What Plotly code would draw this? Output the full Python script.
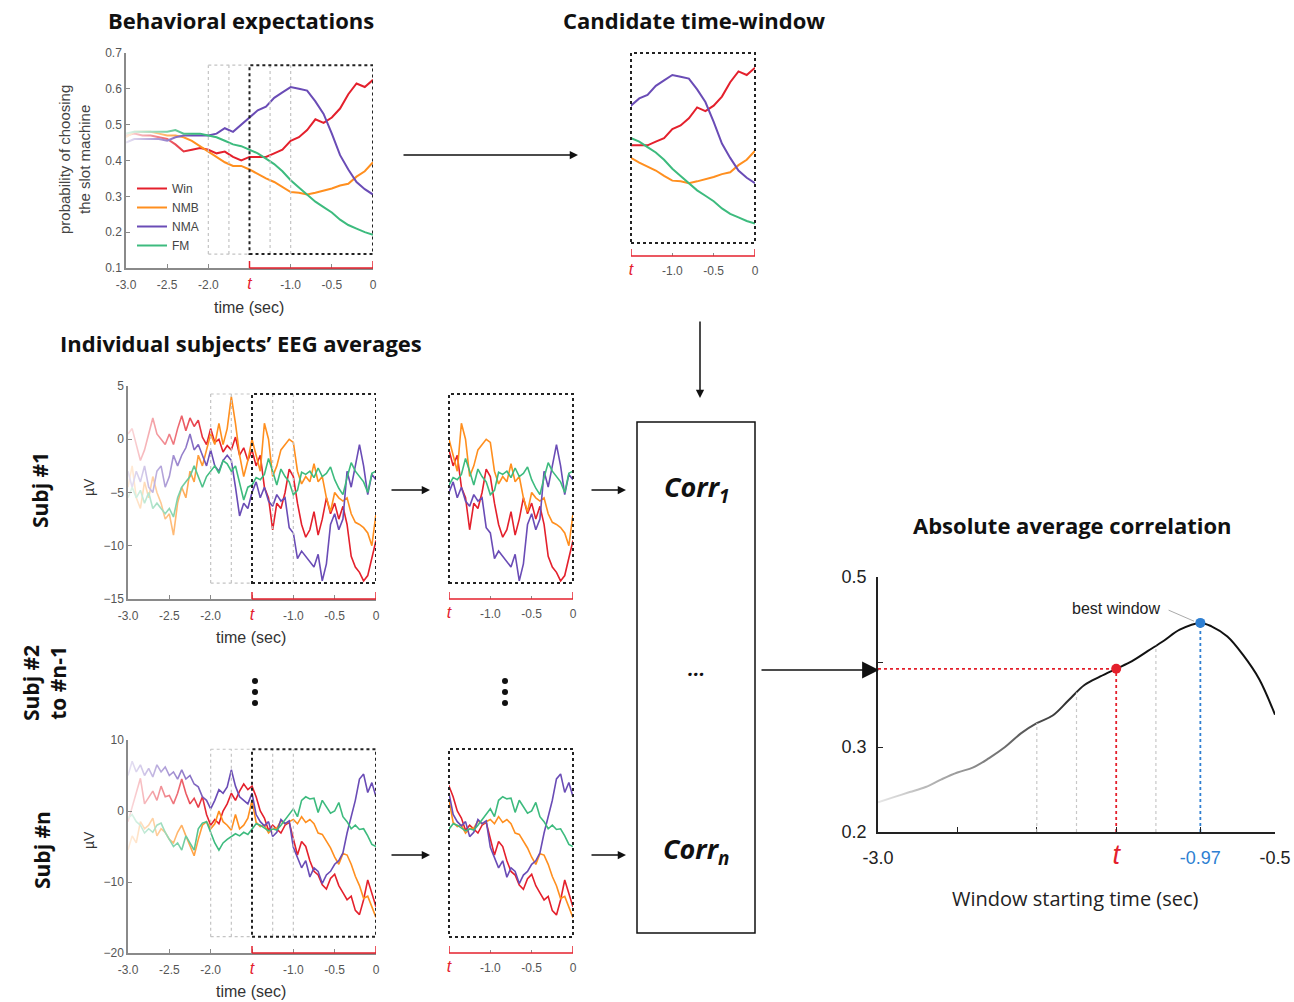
import numpy as np
import plotly.graph_objects as go

W, H = 1294, 1002

# ==========================================================
# 1) DATA (values read off the figure)
# ==========================================================
COND_NAMES = ["Win", "NMB", "NMA", "FM"]
COND_COLORS = ["#e4202c", "#ff8f1f", "#6a4cb6", "#3dbb7e"]

# behavioural expectations: probability of choosing the slot machine
BEH_TIME = [-3.0, -2.9, -2.8, -2.7, -2.6, -2.5, -2.4, -2.3, -2.2, -2.1,
            -2.0, -1.9, -1.8, -1.7, -1.6, -1.5, -1.4, -1.3, -1.2, -1.1,
            -1.0, -0.9, -0.8, -0.7, -0.6, -0.5, -0.4, -0.3, -0.2, -0.1, 0.0]
BEH_WIN = [0.47, 0.475, 0.47, 0.47, 0.465, 0.46, 0.445, 0.425, 0.43, 0.435,
           0.43, 0.42, 0.425, 0.41, 0.40, 0.41, 0.41, 0.41, 0.42, 0.43,
           0.455, 0.465, 0.485, 0.515, 0.505, 0.52, 0.545, 0.585, 0.615, 0.605, 0.625]
BEH_NMB = [0.465, 0.48, 0.48, 0.48, 0.475, 0.47, 0.47, 0.465, 0.455, 0.44,
           0.425, 0.41, 0.395, 0.385, 0.385, 0.375, 0.362, 0.35, 0.34, 0.325,
           0.312, 0.31, 0.305, 0.31, 0.315, 0.322, 0.33, 0.335, 0.355, 0.37, 0.395]
BEH_NMA = [0.45, 0.46, 0.46, 0.46, 0.46, 0.455, 0.465, 0.47, 0.47, 0.47,
           0.47, 0.475, 0.49, 0.48, 0.50, 0.52, 0.54, 0.55, 0.575, 0.59,
           0.605, 0.60, 0.595, 0.565, 0.53, 0.475, 0.415, 0.375, 0.34, 0.32, 0.305]
BEH_FM = [0.475, 0.48, 0.48, 0.48, 0.48, 0.48, 0.485, 0.475, 0.475, 0.475,
          0.47, 0.465, 0.455, 0.445, 0.44, 0.43, 0.42, 0.405, 0.39, 0.37,
          0.345, 0.325, 0.305, 0.285, 0.27, 0.255, 0.235, 0.22, 0.21, 0.20, 0.193]

# EEG averages (µV), sampled every 50 ms from -3.0 s to 0 s
EEG_TIME = [round(-3.0 + 0.05 * i, 2) for i in range(61)]

SUBJ1_WIN = [0.5, 1.0, -0.5, -2.0, -1.0, 0.5, 2.0, 0.5, 0.0, -0.5,
             0.5, -0.5, 1.0, 2.2, 0.8, 2.0, 1.2, 1.8, 0.2, -0.5,
             1.0, -0.3, 0.0, -1.2, -0.6, -1.0, 0.2, -1.5, -0.8, -2.0,
             -1.0, -2.5, -1.5, -4.5, -5.5, -8.5, -6.0, -6.5, -5.0, -2.8,
             -3.5, -6.0, -8.0, -9.2, -8.5, -6.8, -9.0, -7.5, -5.5, -7.0,
             -6.0, -7.5, -6.3, -8.0, -11.0, -12.0, -12.5, -13.3, -12.8, -11.0,
             -9.5]
SUBJ1_NMB = [-4.5, -2.5, -5.5, -6.5, -4.0, -5.5, -3.5, -5.0, -6.0, -7.5,
             -7.0, -9.0, -6.0, -4.5, -5.5, -3.0, -4.0, -1.5, -2.5, -1.0,
             0.5, -0.5, 1.5, -0.5, 1.0, 4.0, 1.5, -1.5, -3.5, -2.0,
             0.0, -1.5, -3.0, 1.5, 0.0, -3.5, -2.5, -1.0, -0.5, 0.0,
             -0.3, -3.0, -4.2, -3.5, -4.0, -2.3, -4.0, -3.5, -5.5, -6.8,
             -5.0, -5.5, -5.8, -5.5, -7.0, -7.8, -8.0, -8.3, -8.8, -10.0,
             -7.0]
SUBJ1_NMA = [-3.0, -4.5, -3.0, -4.0, -2.5, -4.5, -5.0, -3.0, -2.5, -4.5,
             -3.5, -1.5, -2.5, -1.5, -0.8, 0.5, -1.0, -0.5, -1.5, -2.5,
             -1.0, -2.5, -3.0, -2.0, -1.5, -2.0, -4.5, -7.2, -6.0, -6.5,
             -5.0, -4.0, -5.5, -4.5, -5.8, -6.3, -5.2, -5.8, -5.5, -8.3,
             -8.8, -11.2, -10.5, -11.0, -11.5, -12.0, -10.8, -13.3, -11.7, -8.0,
             -7.0, -8.5, -7.5, -3.0, -4.5, -2.5, -0.5, -2.5, -5.2, -3.3,
             -3.8]
SUBJ1_FM = [-5.5, -4.5, -5.5, -4.8, -6.0, -5.0, -6.5, -6.0, -6.5, -7.0,
            -6.5, -7.3, -5.5, -4.5, -4.0, -3.5, -2.5, -3.5, -4.5, -3.5,
            -3.0, -2.5, -3.2, -2.0, -2.3, -3.0, -2.5, -4.0, -5.7, -4.5,
            -4.3, -3.6, -3.8, -3.3, -1.8, -3.0, -4.3, -2.8, -3.5, -4.0,
            -5.2, -4.8, -3.1, -3.3, -3.0, -3.6, -2.7, -3.5, -3.2, -2.6,
            -3.8, -4.6, -5.2, -3.6, -2.2, -3.0, -3.5, -4.0, -5.0, -3.2,
            -3.0]

SUBJN_WIN = [-1.5, 0.5, 2.5, 4.6, 1.0, 2.0, 2.8, 1.5, 3.5, 2.0,
             2.2, 1.0, 2.5, 4.5, 2.5, 1.0, 1.8, 0.5, 2.0, -0.5,
             -2.0, -1.2, -1.8, 0.0, 1.0, 2.5, 1.5, 2.8, 3.8, 3.0,
             3.5, 2.0, 0.0, -1.0, -2.7, -2.0, -2.6, -3.1, -2.0, -1.6,
             -3.9, -6.2, -4.3, -5.0, -7.0, -8.5, -9.0, -10.4, -11.0, -9.5,
             -8.9, -10.5, -11.5, -12.5, -12.0, -14.0, -14.6, -12.5, -9.7, -11.5,
             -13.5]
SUBJN_NMB = [-5.5, -3.5, -4.5, -1.5, -2.5, -2.0, -1.0, -3.5, -2.5, -3.0,
             -4.0, -4.5, -3.0, -2.0, -3.5, -5.0, -6.3, -4.0, -2.0, -1.5,
             -2.5, -1.8, 0.0, -1.5, -2.0, -2.7, -0.5, -2.5, -2.0, -1.0,
             1.5, -1.6, -2.2, -2.0, -3.1, -2.5, -2.4, -1.4, -1.8, -1.5,
             -1.2, -1.8, -0.8, -1.6, -1.2, -1.8, -3.1, -3.3, -4.2, -5.2,
             -6.5, -7.5, -6.0, -6.2, -7.5, -9.2, -10.5, -12.3, -12.0, -13.5,
             -15.0]
SUBJN_NMA = [5.0, 7.0, 5.5, 6.5, 5.0, 6.0, 4.8, 6.5, 5.5, 6.2,
             5.0, 5.5, 4.5, 5.8, 4.5, 5.0, 3.8, 3.4, 2.0, 1.5,
             0.3, 1.5, 3.0, 2.5, 3.4, 5.8, 3.5, 2.0, 1.5, 1.0,
             2.5, -0.5, -1.5, -2.1, -1.5, -3.6, -3.0, -1.2, -1.8, -1.4,
             -5.1, -6.5, -8.0, -7.0, -9.3, -8.0, -8.5, -10.2, -9.0, -8.5,
             -7.5, -7.0, -5.9, -3.1, -0.7, 1.5, 4.5, 5.2, 2.6, 4.0,
             2.0]
SUBJN_FM = [-1.0, -0.5, -1.5, -2.0, -3.1, -2.5, -3.0, -2.0, -1.7, -3.0,
            -4.0, -5.0, -4.5, -5.5, -3.5, -4.5, -5.5, -2.5, -1.7, -1.5,
            -3.0, -4.5, -5.5, -4.5, -4.0, -3.6, -3.2, -3.5, -3.0, -3.3,
            -2.5, -1.8, -2.0, -2.4, -2.8, -2.5, -2.7, -2.0, -1.2, -0.5,
            0.3, -0.8, 1.5, 2.0, 1.7, 1.8, -0.2, 1.5, 0.5, -0.3,
            0.0, 1.2, -0.8, -1.5, -2.5, -2.0, -2.6, -2.5, -3.5, -4.7,
            -5.0]

# absolute average correlation vs window starting time
CORR_TIME = [-3.0, -2.9, -2.8, -2.7, -2.6, -2.5, -2.4, -2.3, -2.2, -2.1,
             -2.0, -1.9, -1.8, -1.7, -1.6, -1.5, -1.4, -1.3, -1.2, -1.1,
             -0.97, -0.9, -0.8, -0.7, -0.6, -0.5]
CORR_VALUE = [0.235, 0.241, 0.247, 0.253, 0.262, 0.27, 0.276, 0.287, 0.30, 0.316,
              0.328, 0.337, 0.355, 0.373, 0.383, 0.392, 0.401, 0.413, 0.425, 0.438,
              0.446, 0.442, 0.43, 0.408, 0.38, 0.338]

T_START = -1.5                        # candidate window start "t"
BEST_START = -0.97                    # best window start
OTHER_STARTS = [-2.0, -1.75, -1.25, -1.0]

TIME_TICKS = [-3.0, -2.5, -2.0, -1.5, -1.0, -0.5, 0.0]
CROP_TICKS = [-1.5, -1.0, -0.5, 0.0]

# ==========================================================
# 2) HELPERS
# ==========================================================
RED = "#e4202c"
BLUE = "#2e7fd2"


def px_x(p):
    return p / W


def px_y(p):
    return 1 - p / H


fig = go.Figure()


def note(xp, yp, text, size=12, color="#222", family="Liberation Sans", angle=0, xanchor="center"):
    fig.add_annotation(x=px_x(xp), y=px_y(yp), xref="paper", yref="paper", text=text,
                       showarrow=False, textangle=angle, xanchor=xanchor, yanchor="middle",
                       font=dict(size=size, color=color, family=family))


def arrow(x0, y0, x1, y1, size=1.1, width=1.5):
    fig.add_annotation(x=px_x(x1), y=px_y(y1), xref="paper", yref="paper",
                       ax=x0 - x1, ay=y0 - y1, text="", showarrow=True,
                       arrowhead=2, arrowsize=size, arrowwidth=width, arrowcolor="#111")


def fade(xa, ya, x0, x1, y0, y1, alpha=0.85):
    # white overlay that fades the start of the lines
    fig.add_trace(go.Scatter(
        x=[x0, x1, x1, x0, x0], y=[y0, y0, y1, y1, y0], mode="none", fill="toself",
        fillgradient=dict(type="horizontal",
                          colorscale=[[0, f"rgba(255,255,255,{alpha})"], [1, "rgba(255,255,255,0)"]]),
        hoverinfo="skip", showlegend=False, xaxis=xa, yaxis=ya))


def window_marks(xa, ya, ybox, axis_py):
    # grey dotted alternative windows + black dotted candidate window + red bracket
    dot_grey = dict(color="#c4c4c4", width=1.2, dash="dot")
    for xs in OTHER_STARTS:
        fig.add_shape(type="line", xref=xa, yref=ya, x0=xs, x1=xs, y0=ybox[0], y1=ybox[1], line=dot_grey)
    for yb in ybox:
        fig.add_shape(type="line", xref=xa, yref=ya, x0=OTHER_STARTS[0], x1=T_START, y0=yb, y1=yb, line=dot_grey)
    fig.add_shape(type="rect", xref=xa, yref=ya, x0=T_START, x1=0, y0=ybox[0], y1=ybox[1],
                  line=dict(color="#222", width=2, dash="dot"))
    bracket(xa, axis_py)


def bracket(xa, py):
    red = dict(color=RED, width=1.5)
    fig.add_shape(type="line", xref=xa, yref="paper", x0=T_START, x1=0, y0=px_y(py), y1=px_y(py), line=red)
    for xe in (T_START, 0):
        fig.add_shape(type="line", xref=xa, yref="paper", x0=xe, x1=xe, y0=px_y(py), y1=px_y(py - 7), line=red)


def crop_marks(xa, ya, py):
    fig.add_shape(type="rect", xref=xa + " domain", yref=ya + " domain", x0=0, x1=1, y0=0, y1=1,
                  line=dict(color="#222", width=2, dash="dot"))
    bracket(xa, py)


# ==========================================================
# 3) TRACES
# ==========================================================
beh_series = [BEH_WIN, BEH_NMB, BEH_NMA, BEH_FM]
subj1_series = [SUBJ1_WIN, SUBJ1_NMB, SUBJ1_NMA, SUBJ1_FM]
subjn_series = [SUBJN_WIN, SUBJN_NMB, SUBJN_NMA, SUBJN_FM]

for i, name in enumerate(COND_NAMES):
    for xa, ya, leg in (("x", "y", True), ("x2", "y2", False)):
        fig.add_trace(go.Scatter(x=BEH_TIME, y=beh_series[i], mode="lines", name=name,
                                 line=dict(color=COND_COLORS[i], width=2),
                                 showlegend=leg, hoverinfo="skip", xaxis=xa, yaxis=ya))
    for xa, ya in (("x3", "y3"), ("x4", "y4")):
        fig.add_trace(go.Scatter(x=EEG_TIME, y=subj1_series[i], mode="lines",
                                 line=dict(color=COND_COLORS[i], width=1.6),
                                 showlegend=False, hoverinfo="skip", xaxis=xa, yaxis=ya))
    for xa, ya in (("x5", "y5"), ("x6", "y6")):
        fig.add_trace(go.Scatter(x=EEG_TIME, y=subjn_series[i], mode="lines",
                                 line=dict(color=COND_COLORS[i], width=1.6),
                                 showlegend=False, hoverinfo="skip", xaxis=xa, yaxis=ya))

fig.add_trace(go.Scatter(x=CORR_TIME, y=CORR_VALUE, mode="lines", line=dict(color="#111", width=2, shape="spline"),
                         showlegend=False, hoverinfo="skip", xaxis="x7", yaxis="y7"))

fade("x", "y", -3.0, -2.2, 0.1, 0.7)
fade("x3", "y3", -3.0, -2.0, -15, 5)
fade("x5", "y5", -3.0, -2.0, -20, 10)
fade("x7", "y7", -3.0, -1.6, 0.2, 0.5, alpha=0.9)

v_t = CORR_VALUE[CORR_TIME.index(T_START)]
v_best = CORR_VALUE[CORR_TIME.index(BEST_START)]
fig.add_trace(go.Scatter(x=[T_START, BEST_START], y=[v_t, v_best], mode="markers",
                         marker=dict(color=[RED, BLUE], size=10), showlegend=False,
                         hoverinfo="skip", xaxis="x7", yaxis="y7"))

# ==========================================================
# 4) SHAPES
# ==========================================================
window_marks("x", "y", (0.139, 0.666), 268)
window_marks("x3", "y3", (-13.5, 4.25), 599)
window_marks("x5", "y5", (-17.7, 8.7), 953)
crop_marks("x2", "y2", 256)
crop_marks("x4", "y4", 599)
crop_marks("x6", "y6", 953)

for xs in (-2.0, -1.75, -1.25):
    fig.add_shape(type="line", xref="x7", yref="y7", x0=xs, x1=xs, y0=0.2,
                  y1=float(np.interp(xs, CORR_TIME, CORR_VALUE)),
                  line=dict(color="#c8c8c8", width=1.2, dash="dot"))
fig.add_shape(type="line", xref="x7", yref="y7", x0=-3.0, x1=T_START, y0=v_t, y1=v_t,
              line=dict(color=RED, width=1.8, dash="dot"))
fig.add_shape(type="line", xref="x7", yref="y7", x0=T_START, x1=T_START, y0=0.2, y1=v_t,
              line=dict(color=RED, width=1.8, dash="dot"), layer="below")
fig.add_shape(type="line", xref="x7", yref="y7", x0=BEST_START, x1=BEST_START, y0=0.2, y1=v_best,
              line=dict(color=BLUE, width=1.8, dash="dot"), layer="below")
fig.add_shape(type="line", xref="x7", yref="y7", x0=-1.17, x1=-1.01, y0=0.461, y1=0.448,
              line=dict(color="#aaaaaa", width=1))

# correlation box and the vertical ellipses
fig.add_shape(type="rect", xref="paper", yref="paper", x0=px_x(637), x1=px_x(755),
              y0=px_y(933), y1=px_y(422), line=dict(color="#111", width=1.5))
for cx in (255, 505):
    for cy in (681, 692, 703):
        fig.add_shape(type="circle", xref="paper", yref="paper", x0=px_x(cx - 3), x1=px_x(cx + 3),
                      y0=px_y(cy + 3), y1=px_y(cy - 3), fillcolor="#111", line=dict(width=0))

# ==========================================================
# 5) AXES
# ==========================================================
T_SMALL = f'<span style="color:{RED};font-size:16px"><i>t</i></span>'
T_BIG = f'<span style="color:{RED};font-size:27px"><i>t</i></span>'
TIME_TEXT = ["-3.0", "-2.5", "-2.0", T_SMALL, "-1.0", "-0.5", "0"]
CROP_TEXT = [T_SMALL, "-1.0", "-0.5", "0"]

tick_font = dict(family="Liberation Sans", size=12, color="#555555")
main_axis = dict(showgrid=False, zeroline=False, showline=True, linecolor="#8a8a8a", linewidth=1.5,
                 ticks="inside", ticklen=4, tickcolor="#8a8a8a", tickfont=tick_font, fixedrange=True,
                 automargin=False)
crop_x = dict(showgrid=False, zeroline=False, showline=False, ticks="inside", ticklen=3,
              tickcolor="#8a8a8a", tickfont=dict(tick_font, size=12), range=[-1.5, 0],
              tickvals=CROP_TICKS, ticktext=CROP_TEXT, anchor="free", ticklabelstandoff=6,
              fixedrange=True, automargin=False)
crop_y = dict(visible=False, fixedrange=True)

fig.update_layout(
    width=W, height=H, margin=dict(l=0, r=0, t=0, b=0, pad=0, autoexpand=False),
    paper_bgcolor="white", plot_bgcolor="rgba(0,0,0,0)",
    legend=dict(x=px_x(132), y=px_y(174), xanchor="left", yanchor="top", bgcolor="rgba(0,0,0,0)",
                font=dict(family="Liberation Sans", size=12, color="#444"), itemwidth=30,
                tracegroupgap=0),
    # behavioural expectations
    xaxis=dict(main_axis, domain=[px_x(126), px_x(373)], range=[-3, 0], anchor="y",
               tickvals=TIME_TICKS, ticktext=TIME_TEXT, ticklabelstandoff=5),
    yaxis=dict(main_axis, domain=[px_y(268), px_y(53)], range=[0.1, 0.7], anchor="x",
               tickvals=[0.1, 0.2, 0.3, 0.4, 0.5, 0.6, 0.7],
               ticktext=["0.1", "0.2", "0.3", "0.4", "0.5", "0.6", "0.7"]),
    # candidate time-window
    xaxis2=dict(crop_x, domain=[px_x(631), px_x(755)], position=px_y(256)),
    yaxis2=dict(crop_y, domain=[px_y(243), px_y(53)], range=[0.139, 0.666], anchor="x2"),
    # subject 1
    xaxis3=dict(main_axis, domain=[px_x(128), px_x(376)], range=[-3, 0], anchor="y3",
                tickvals=TIME_TICKS, ticktext=TIME_TEXT, ticklabelstandoff=5),
    yaxis3=dict(main_axis, domain=[px_y(599), px_y(386)], range=[-15, 5], anchor="x3",
                tickvals=[-15, -10, -5, 0, 5]),
    xaxis4=dict(crop_x, domain=[px_x(449), px_x(573)], position=px_y(599)),
    yaxis4=dict(crop_y, domain=[px_y(583), px_y(394)], range=[-13.5, 4.25], anchor="x4"),
    # subject n
    xaxis5=dict(main_axis, domain=[px_x(128), px_x(376)], range=[-3, 0], anchor="y5",
                tickvals=TIME_TICKS, ticktext=TIME_TEXT, ticklabelstandoff=5),
    yaxis5=dict(main_axis, domain=[px_y(953), px_y(740)], range=[-20, 10], anchor="x5",
                tickvals=[-20, -10, 0, 10]),
    xaxis6=dict(crop_x, domain=[px_x(449), px_x(573)], position=px_y(953)),
    yaxis6=dict(crop_y, domain=[px_y(937), px_y(749)], range=[-17.7, 8.7], anchor="x6"),
    # absolute average correlation
    xaxis7=dict(main_axis, domain=[px_x(878), px_x(1275)], range=[-3, -0.5], anchor="y7",
                linecolor="#222", tickcolor="#222", ticklen=5,
                tickfont=dict(family="Liberation Sans", size=18, color="#222"),
                tickvals=[-3.0, -2.5, -2.0, T_START, BEST_START, -0.5],
                ticktext=["-3.0", "", "", T_BIG, f'<span style="color:{BLUE}">-0.97</span>', "-0.5"],
                ticklabelstandoff=9),
    yaxis7=dict(main_axis, domain=[px_y(832), px_y(577)], range=[0.2, 0.5], anchor="x7",
                linecolor="#222", tickcolor="#222", ticklen=5,
                tickfont=dict(family="Liberation Sans", size=18, color="#222"),
                tickvals=[0.2, 0.3, 0.4, 0.5], ticktext=["0.2", "0.3", "", "0.5"],
                ticklabelstandoff=6),
)

# ==========================================================
# 6) TEXT AND ARROWS
# ==========================================================
TITLE_FONT = "Open Sans"
note(241, 20, "<b>Behavioral expectations</b>", 22, "#111", TITLE_FONT)
note(694, 20, "<b>Candidate time-window</b>", 22, "#111", TITLE_FONT)
note(58, 343, "<b>Individual subjects’ EEG averages</b>", 22, "#111", TITLE_FONT, xanchor="left")
note(1072, 525, "<b>Absolute average correlation</b>", 22, "#111", TITLE_FONT)
note(1075, 898, "Window starting time (sec)", 20, "#222", TITLE_FONT)

note(74, 160, "probability of choosing<br>the slot machine", 15, "#444", angle=-90)
note(249, 307, "time (sec)", 16, "#333")
note(251, 637, "time (sec)", 16, "#333")
note(251, 991, "time (sec)", 16, "#333")
note(89, 487, "µV", 14, "#333", angle=-90)
note(89, 840, "µV", 14, "#333", angle=-90)

note(40, 490, "<b>Subj #1</b>", 21, "#111", TITLE_FONT, angle=-90)
note(44, 683, "<b>Subj #2<br>to #n-1</b>", 21, "#111", TITLE_FONT, angle=-90)
note(42, 850, "<b>Subj #n</b>", 21, "#111", TITLE_FONT, angle=-90)

note(696, 488, "<b><i>Corr<sub>1</sub></i></b>", 27, "#111", TITLE_FONT)
note(696, 668, "<b><i>...</i></b>", 20, "#111", TITLE_FONT)
note(696, 850, "<b><i>Corr<sub>n</sub></i></b>", 27, "#111", TITLE_FONT)

fig.add_annotation(x=-1.5, y=0.4635, xref="x7", yref="y7", text="best window", showarrow=False,
                   font=dict(family="Liberation Sans", size=16, color="#222"))

arrow(402, 155, 578, 155)
arrow(700, 320, 700, 398)
arrow(390, 490, 430, 490)
arrow(590, 490, 626, 490)
arrow(390, 855, 430, 855)
arrow(590, 855, 626, 855)
arrow(760, 670, 879, 670, size=2.6, width=1.3)

# the page's default body margin would shift the figure by 8 px
fig.write_html("out.html", config={"displayModeBar": False},
               post_script="document.body.style.margin = '0';")
